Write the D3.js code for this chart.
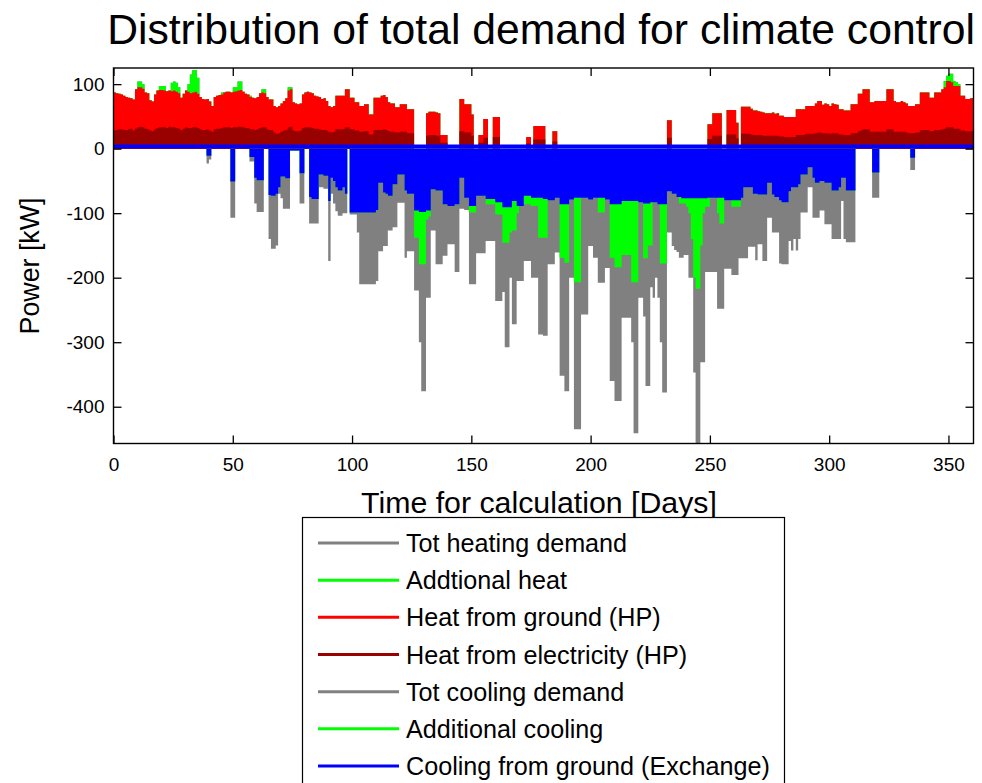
<!DOCTYPE html>
<html><head><meta charset="utf-8">
<script src="https://cdn.jsdelivr.net/npm/d3@7"></script>
<style>
html,body{margin:0;padding:0;background:#fff;}
svg{display:block;font-family:"Liberation Sans",Arial,Helvetica,sans-serif;}
</style></head>
<body>
<svg id="chart" width="982" height="783"></svg>
<script>
// ---- Data (daily values, kW) ----
const heatTotal = [
87,86,85,84,82,80,79,78,76,92,
104,104,100,87,86,75,73,84,90,97,
97,97,89,90,102,104,102,95,79,85,
90,100,115,122,122,110,80,77,76,77,
73,66,80,82,83,87,87,88,88,87,
95,95,104,104,88,85,84,82,79,78,
80,86,92,92,80,76,76,66,64,66,
70,74,78,95,95,72,70,69,70,84,
87,88,87,86,82,81,80,77,78,74,
66,64,66,82,82,82,82,92,92,79,
79,72,72,66,66,69,69,53,53,79,
79,79,82,83,80,72,70,70,64,64,
69,69,69,61,61,61,0,0,0,0,
0,55,57,57,57,56,55,21,21,21,
0,0,0,0,0,77,77,69,69,69,
53,0,0,21,21,46,46,0,0,49,
49,49,0,0,0,0,0,0,0,0,
0,0,0,18,18,0,35,35,35,35,
35,0,0,0,27,27,0,0,0,0,
0,0,0,0,0,0,0,0,0,0,
0,0,0,0,0,0,0,0,0,0,
0,0,0,0,0,0,0,0,0,0,
0,0,0,0,0,0,0,0,0,0,
0,0,44,44,0,0,0,0,0,0,
0,0,0,0,0,0,0,0,0,38,
38,55,55,55,55,0,0,60,60,60,
60,40,0,65,65,65,65,62,59,59,
58,57,56,55,55,55,56,54,55,51,
51,49,49,49,49,49,61,61,61,61,
66,66,66,66,70,74,74,68,70,69,
66,70,69,68,61,61,59,59,59,69,
69,69,85,85,92,92,92,72,72,74,
74,74,74,74,92,92,92,74,72,72,
74,72,70,66,66,66,69,69,87,87,
87,87,79,79,87,87,87,92,105,113,
116,116,105,103,100,82,82,77,77,78,78];

const heatGroundHP = [
87,86,85,84,82,80,79,78,76,92,
95,95,93,87,86,75,73,84,90,91,
91,90,89,90,89,90,88,86,79,85,
90,88,86,87,88,85,80,77,76,77,
73,66,80,82,83,84,87,88,88,87,
88,89,90,91,88,85,84,80,79,78,
80,86,87,86,80,76,76,66,64,66,
70,74,78,90,92,72,70,69,70,84,
87,88,87,86,82,81,80,77,78,74,
66,64,66,82,82,82,82,92,92,79,
79,72,72,66,66,69,69,53,53,79,
79,79,82,83,80,72,70,70,64,64,
69,69,69,61,61,61,0,0,0,0,
0,55,57,57,57,56,55,21,21,21,
0,0,0,0,0,77,77,69,69,69,
53,0,0,21,21,46,46,0,0,49,
49,49,0,0,0,0,0,0,0,0,
0,0,0,18,18,0,35,35,35,35,
35,0,0,0,27,27,0,0,0,0,
0,0,0,0,0,0,0,0,0,0,
0,0,0,0,0,0,0,0,0,0,
0,0,0,0,0,0,0,0,0,0,
0,0,0,0,0,0,0,0,0,0,
0,0,44,44,0,0,0,0,0,0,
0,0,0,0,0,0,0,0,0,38,
38,55,55,55,55,0,0,60,60,60,
60,40,0,65,65,65,65,62,59,59,
58,57,56,55,55,55,56,54,55,51,
51,49,49,49,49,49,61,61,61,61,
66,66,66,66,70,74,74,68,70,69,
66,70,69,68,61,61,59,59,59,69,
69,69,85,85,92,92,92,72,72,74,
74,74,74,74,92,92,92,74,72,72,
74,72,70,66,66,66,69,69,87,87,
87,87,79,79,87,87,87,92,95,105,
105,103,97,97,97,82,82,77,77,78,78];

const heatElectricity = [
28,29,30,30,29,29,30,31,28,31,
33,34,33,31,30,28,27,30,32,33,
33,33,32,34,33,33,32,31,29,31,
33,32,32,33,33,32,30,29,29,30,
28,26,30,31,31,32,33,33,33,32,
33,33,34,34,33,32,32,30,30,29,
30,32,33,33,30,29,29,25,23,24,
26,28,29,33,34,28,27,27,28,32,
33,33,33,32,31,31,30,29,29,28,
26,25,26,30,30,30,30,33,33,30,
30,28,28,26,26,27,27,22,22,29,
29,29,29,30,29,27,26,26,25,25,
26,26,26,24,24,24,0,0,0,0,
0,20,21,21,21,20,20,9,9,9,
0,0,0,0,0,27,27,25,25,25,
20,0,0,9,9,17,17,0,0,18,
18,18,0,0,0,0,0,0,0,0,
0,0,0,8,8,0,14,14,14,14,
14,0,0,0,11,11,0,0,0,0,
0,0,0,0,0,0,0,0,0,0,
0,0,0,0,0,0,0,0,0,0,
0,0,0,0,0,0,0,0,0,0,
0,0,0,0,0,0,0,0,0,0,
0,0,17,17,0,0,0,0,0,0,
0,0,0,0,0,0,0,0,0,15,
15,20,20,20,20,0,0,22,22,22,
22,16,0,23,23,23,23,22,21,21,
21,21,20,20,20,20,20,20,20,19,
19,18,18,18,18,18,21,21,21,21,
23,23,23,23,24,25,25,24,24,24,
23,24,24,24,22,22,21,21,21,24,
24,24,27,28,30,30,30,26,26,26,
26,26,26,26,30,30,30,26,26,26,
26,26,25,24,24,24,25,25,29,29,
29,29,27,27,29,29,29,30,31,33,
33,33,31,31,31,28,28,27,27,27,27];

const coolTotal = [
0,0,0,0,0,0,0,0,0,0,
0,0,0,0,0,0,0,0,0,0,
0,0,0,0,0,0,0,0,0,0,
0,0,0,0,0,0,0,0,0,23,
17,0,0,0,0,0,0,0,0,107,
107,0,0,0,0,0,0,20,20,85,
98,98,98,0,0,140,155,155,150,70,
77,93,93,93,3,3,3,3,85,85,
0,0,116,116,116,116,60,60,62,62,
174,70,85,97,104,104,100,100,0,102,
102,102,130,210,210,210,210,210,210,210,
205,159,159,151,151,127,127,122,122,84,
84,84,169,159,159,159,220,220,300,376,
376,231,231,127,127,179,179,179,166,166,
148,148,148,191,191,93,93,95,95,210,
210,210,162,162,162,162,143,143,143,143,
236,236,236,222,308,308,200,272,272,205,
205,205,174,174,174,200,200,200,288,288,
290,290,179,179,179,161,161,352,352,376,
376,200,200,435,435,435,257,257,257,151,
151,169,169,208,208,208,185,185,360,360,
391,391,391,262,262,262,262,300,441,441,
231,231,260,368,368,215,231,200,231,300,
378,378,130,130,151,157,160,169,169,165,
165,200,200,347,470,470,331,331,191,191,
191,191,191,248,248,248,186,186,186,196,
196,196,170,170,170,170,152,152,152,173,
148,148,174,174,107,107,130,130,130,178,
179,179,179,143,158,140,158,140,99,99,
99,60,60,107,107,107,96,96,117,117,
117,140,140,140,140,81,140,145,145,145,
145,0,0,0,0,0,0,0,76,76,
76,0,0,0,0,0,0,0,0,0,
0,0,0,0,33,33,0,0,0,0,
0,0,0,0,0,0,0,0,0,0,
0,0,0,0,0,0,0,0,0,0,0];

// ground exchange + additional cooling (level reached by the green band)
const coolAdditional = [
0,0,0,0,0,0,0,0,0,0,
0,0,0,0,0,0,0,0,0,0,
0,0,0,0,0,0,0,0,0,0,
0,0,0,0,0,0,0,0,0,11,
11,0,0,0,0,0,0,0,0,51,
51,0,0,0,0,0,0,13,13,45,
49,49,49,0,0,72,73,73,70,60,
43,43,46,46,3,3,3,3,38,38,
0,0,75,78,78,78,40,40,42,42,
81,45,50,60,65,65,60,70,0,99,
99,99,99,99,99,99,99,99,99,99,
95,53,53,68,70,73,73,55,55,40,
40,40,65,70,70,70,138,138,179,179,
179,110,105,63,63,65,65,65,86,86,
89,89,89,86,86,45,45,76,76,99,
99,99,73,73,73,73,86,86,86,86,
102,102,102,146,146,146,130,127,127,100,
89,89,86,86,86,89,89,89,138,138,
138,138,80,80,80,76,76,169,169,177,
177,79,79,207,207,207,76,76,76,79,
79,76,76,99,99,99,79,79,169,169,
184,184,184,165,165,165,165,207,207,207,
83,83,170,170,150,150,83,83,86,178,
178,178,66,66,70,70,75,85,85,85,
90,100,140,200,217,217,150,100,90,90,
76,76,76,100,116,116,80,80,80,90,
90,90,90,76,60,60,60,60,70,70,
71,71,71,71,53,53,71,75,75,80,
83,83,83,66,60,60,60,55,40,40,
40,29,29,45,53,53,50,50,53,53,
53,65,65,65,60,45,45,65,65,65,
65,0,0,0,0,0,0,0,37,37,
37,0,0,0,0,0,0,0,0,0,
0,0,0,0,14,14,0,0,0,0,
0,0,0,0,0,0,0,0,0,0,
0,0,0,0,0,0,0,0,0,0,0];

const coolGround = [
0,0,0,0,0,0,0,0,0,0,
0,0,0,0,0,0,0,0,0,0,
0,0,0,0,0,0,0,0,0,0,
0,0,0,0,0,0,0,0,0,11,
11,0,0,0,0,0,0,0,0,51,
51,0,0,0,0,0,0,13,13,45,
49,49,49,0,0,72,73,73,70,60,
43,43,46,46,3,3,3,3,38,38,
0,0,75,78,78,78,40,40,42,42,
81,45,50,60,65,65,60,70,0,99,
99,99,99,99,99,99,99,99,99,99,
95,53,53,68,70,73,73,55,55,40,
40,40,65,70,70,70,96,96,98,98,
98,96,96,63,63,65,65,65,86,86,
89,89,89,86,86,45,45,76,76,89,
89,89,73,73,73,73,78,78,78,78,
83,83,83,91,91,91,91,81,81,89,
89,89,73,73,73,76,76,76,76,76,
78,78,80,80,80,76,76,86,86,86,
86,79,79,76,76,76,76,76,76,79,
79,76,76,76,76,76,79,79,86,86,
86,86,86,81,81,81,81,81,81,81,
83,83,85,85,85,83,83,83,86,86,
86,86,66,66,70,70,75,75,77,77,
77,77,77,77,77,77,77,77,77,76,
76,76,76,76,76,76,80,80,80,80,
80,80,80,76,60,60,60,60,70,70,
71,71,71,71,53,53,71,75,75,80,
83,83,83,66,60,60,60,55,40,40,
40,29,29,45,53,53,50,50,53,53,
53,65,65,65,60,45,45,65,65,65,
65,0,0,0,0,0,0,0,37,37,
37,0,0,0,0,0,0,0,0,0,
0,0,0,0,14,14,0,0,0,0,
0,0,0,0,0,0,0,0,0,0,
0,0,0,0,0,0,0,0,0,0,0];

const xTicks = [0,50,100,150,200,250,300,350];
const yTicks = [-400,-300,-200,-100,0,100];
const legendLabels = ["Tot heating demand","Addtional heat","Heat from ground (HP)","Heat from electricity (HP)","Tot cooling demand","Additional cooling","Cooling from ground (Exchange)"];
const legendColors = ["#808080","#00ff00","#ff0000","#990000","#808080","#00ff00","#0000ff"];

// ---- Layout ----
const svg = d3.select("#chart");
const L = 113.5, R = 973.5, T = 68, B = 443.5;
const x = d3.scaleLinear().domain([0, 360.5]).range([L, R]);
const y = d3.scaleLinear().domain([-457, 125]).range([B, T]);

svg.append("defs").append("clipPath").attr("id","plotclip")
  .append("rect").attr("x",L).attr("y",T).attr("width",R-L).attr("height",B-T);

const g = svg.append("g").attr("clip-path","url(#plotclip)");

function drawSeries(vals, sign, color){
  const pts = vals.map((v,i)=>[i, sign*v]);
  pts.push([vals.length, sign*vals[vals.length-1]]);
  const area = d3.area().curve(d3.curveStepAfter)
    .x(d=>x(d[0])).y0(y(0)).y1(d=>y(d[1]));
  g.append("path").attr("d", area(pts)).attr("fill", color).attr("stroke","none");
}
// heating (positive)
drawSeries(heatTotal, 1, "#808080");
drawSeries(heatTotal, 1, "#00ff00");
drawSeries(heatGroundHP, 1, "#ff0000");
drawSeries(heatElectricity, 1, "#990000");
// cooling (negative)
drawSeries(coolTotal, -1, "#808080");
drawSeries(coolAdditional, -1, "#00ff00");
drawSeries(coolGround, -1, "#0000ff");
// cooling baseline edge
g.append("line").attr("x1",L).attr("x2",R).attr("y1",y(0)-2.2).attr("y2",y(0)-2.2)
  .attr("stroke","#0000ff").attr("stroke-width",4);

// ---- Axes ----
const fontTick = 19;
const fmt = d => String(d);
const axB = svg.append("g").attr("transform",`translate(0,${B})`)
  .call(d3.axisBottom(x).tickValues(xTicks).tickSizeInner(-8).tickSizeOuter(0).tickPadding(14).tickFormat(fmt));
const axT = svg.append("g").attr("transform",`translate(0,${T})`)
  .call(d3.axisTop(x).tickValues(xTicks).tickSizeInner(-8).tickSizeOuter(0).tickFormat(""));
const axL = svg.append("g").attr("transform",`translate(${L},0)`)
  .call(d3.axisLeft(y).tickValues(yTicks).tickSizeInner(-8).tickSizeOuter(0).tickPadding(9).tickFormat(fmt));
const axR = svg.append("g").attr("transform",`translate(${R},0)`)
  .call(d3.axisRight(y).tickValues(yTicks).tickSizeInner(-8).tickSizeOuter(0).tickFormat(""));
[axB,axT,axL,axR].forEach(a=>{
  a.selectAll("path.domain").remove();
  a.selectAll("line").attr("stroke","#000").attr("stroke-width",1.3);
  a.selectAll("text").attr("font-size",fontTick).attr("fill","#000")
    .attr("font-family","Liberation Sans, Arial, sans-serif");
});
svg.append("rect").attr("x",L).attr("y",T).attr("width",R-L).attr("height",B-T)
  .attr("fill","none").attr("stroke","#000").attr("stroke-width",1.4);

function fitWidth(sel, target){
  const w = sel.node().getComputedTextLength();
  const fs = parseFloat(sel.attr("font-size"));
  sel.attr("font-size", fs*target/w);
}

// ---- Titles ----
const title = svg.append("text").attr("x",541).attr("y",44).attr("text-anchor","middle")
  .attr("font-size",40).attr("fill","#000").text("Distribution of total demand for climate control");
fitWidth(title, 868);

const xl = svg.append("text").attr("x",539).attr("y",513).attr("text-anchor","middle")
  .attr("font-size",28).attr("fill","#000").text("Time for calculation [Days]");
fitWidth(xl, 356);

const yl = svg.append("text").attr("transform","translate(39,266) rotate(-90)").attr("text-anchor","middle")
  .attr("font-size",26).attr("fill","#000").text("Power [kW]");
fitWidth(yl, 137);

// ---- Legend ----
const lg = svg.append("g");
lg.append("rect").attr("x",302.5).attr("y",517.5).attr("width",482).attr("height",300)
  .attr("fill","#fff").attr("stroke","#000").attr("stroke-width",1.2);
const rowY = d3.scalePoint().domain(d3.range(legendLabels.length)).range([543, 766]);
let legFs = 24;
legendLabels.forEach((lab,i)=>{
  const yy = rowY(i);
  lg.append("line").attr("x1",318).attr("x2",399).attr("y1",yy).attr("y2",yy)
    .attr("stroke",legendColors[i]).attr("stroke-width",3);
  lg.append("text").attr("class","legtxt").attr("x",406).attr("y",yy).attr("dy","0.36em")
    .attr("font-size",legFs).attr("fill","#000").text(lab);
});
const longest = lg.selectAll("text.legtxt").filter(function(){return this.textContent==="Cooling from ground (Exchange)";});
const wl = longest.node().getComputedTextLength();
const fsL = legFs*364/wl;
lg.selectAll("text.legtxt").attr("font-size",fsL);
</script>
</body></html>
